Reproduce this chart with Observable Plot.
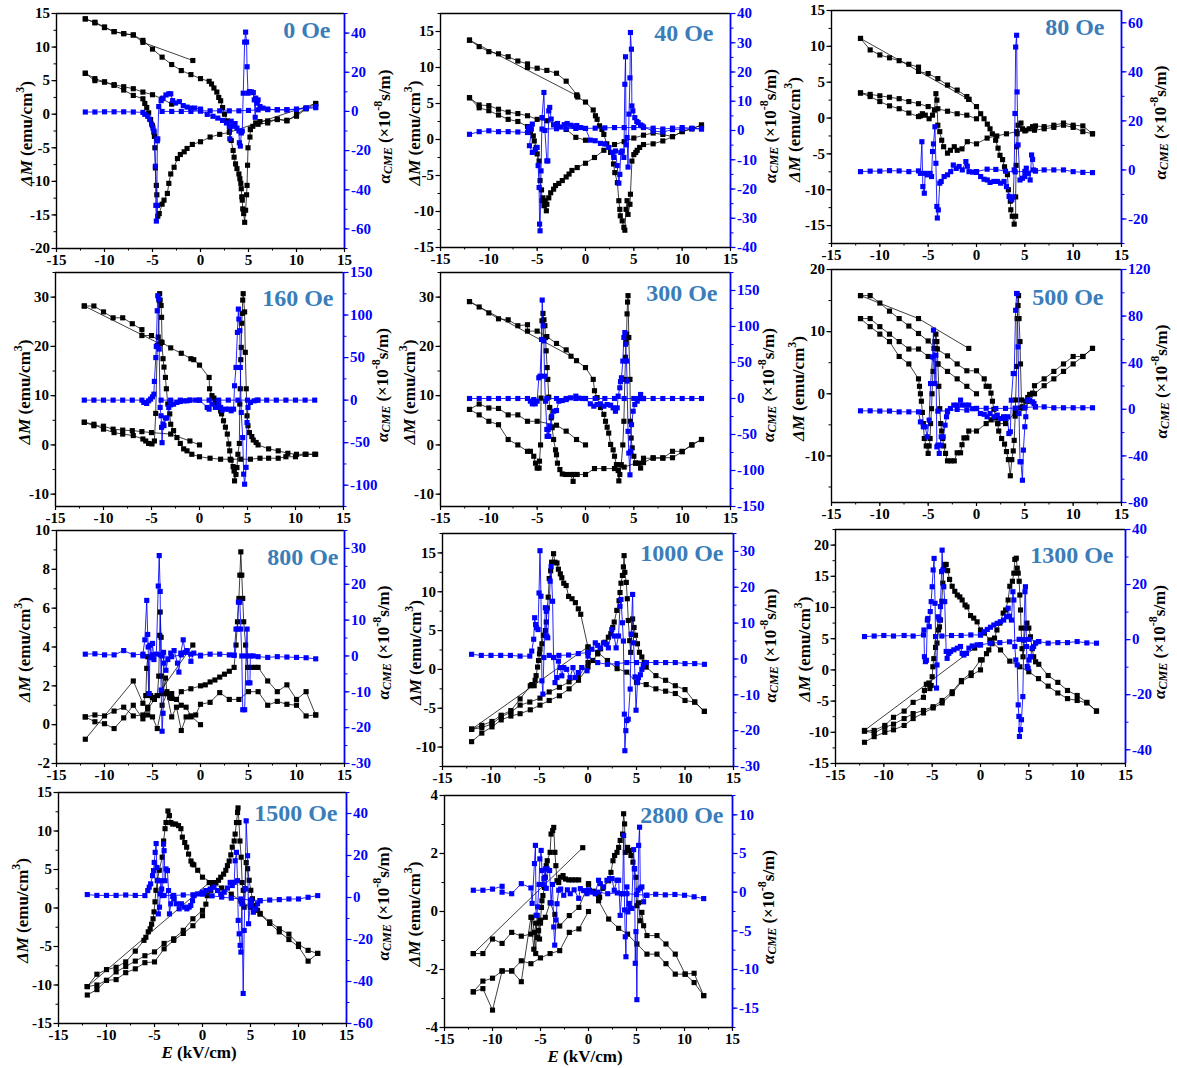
<!DOCTYPE html>
<html>
<head>
<meta charset="utf-8">
<script src="https://cdn.jsdelivr.net/npm/d3@7"></script>
<script src="https://cdn.jsdelivr.net/npm/@observablehq/plot@0.6"></script>
<style>
html,body{margin:0;padding:0;background:#fff;}
#wrap{position:relative;width:1177px;height:1068px;overflow:hidden;background:#fff;}
#wrap svg{position:absolute;}
</style>
</head>
<body>
<div id="wrap"></div>
<script>
// ---------------- DATA (E in kV/cm, ΔM in emu/cm3, α_CME in 1e-8 s/m) ----------------
// each branch is a flat list E0,v0,E1,v1,...
const fieldLabels = ["0 Oe","40 Oe","80 Oe","160 Oe","300 Oe","500 Oe","800 Oe","1000 Oe","1300 Oe","1500 Oe","2800 Oe"];

const dm_0 = [
 [-0.8,8.0, -6,10.7, -7,11.8, -8,12.0, -9,12.3, -10,12.9, -11,13.6, -12,14.2],
 [-12,14.2, -11,13.7, -10,13.0, -9,12.3, -8,12.0, -7,11.8, -6,11.0, -5,9.7, -4,8.5, -3,7.4, -2,6.5, -1,5.9, 0,5.3, 0.9,4.9, 1.15,4.5, 1.4,3.9, 1.7,3.3, 1.9,2.5, 2.1,2.0, 2.3,1.0, 2.5,0.0, 2.8,-1.0, 3.05,-2.2, 3.2,-3.9, 3.4,-5.4, 3.5,-6.4, 3.65,-7.4, 3.8,-8.1, 4.0,-8.9, 4.1,-9.6, 4.2,-10.3, 4.25,-11.1, 4.3,-12.3, 4.35,-12.8, 4.4,-14.1, 4.5,-14.8, 4.6,-16.1, 4.7,-14.3, 4.8,-12.0, 4.85,-10.6, 4.9,-7.6, 4.95,-5.0, 5.15,-3.4, 5.2,-2.3, 5.45,-1.8, 5.75,-1.3, 6.2,-1.1, 7,-1.0, 8,-0.8, 9,-0.9, 10,-0.3, 11,0.8, 12,1.6],
 [12,1.6, 3,-2.7, 2,-3.0, 1,-3.4, 0,-4.1, -0.85,-4.5, -1.4,-5.1, -1.7,-5.6, -2.1,-6.0, -2.4,-6.6, -2.75,-7.9, -3.1,-8.9, -3.3,-10.3, -3.45,-11.8, -3.8,-12.8, -4.0,-13.4, -4.3,-14.8, -4.45,-15.2, -4.5,-13.6, -4.55,-12.0, -4.6,-10.6, -4.7,-8.0, -4.75,-5.0, -4.8,-3.3, -4.85,-2.7, -5.0,-1.7, -5.2,-0.8, -5.4,0.2, -5.6,1.0, -5.8,1.6, -6,2.3, -7,2.8, -8,3.6, -9,4.3, -10,4.8, -11,5.0, -12,6.1],
 [-12,6.1, -11,5.3, -10,4.8, -9,4.4, -8,4.1, -7,3.8, -6,3.3, -5,2.9, -4,2.3, -3,1.5],
 [5.2,-2.2, 6,-1.5, 7,-1.3, 8,-0.7, 9,-1.0, 10,-0.05, 11,0.9]
];
const alpha_0 = [
 [-12,-0.3, -11,-0.3, -10,-0.2, -9,-0.2, -8,-0.2, -7,-0.3, -6,-0.5, -5.8,-1.5, -5.5,-2.5, -5.3,-4.0, -5.1,-6.5, -4.95,-8.5, -4.85,-10.0, -4.7,-28, -4.65,-48, -4.6,-56, -4.55,-48, -4.5,-15, -4.45,-14, -4.35,2.5, -4.1,5.5, -3.9,6.8, -3.6,8.4, -3.3,9.0, -3.1,9.0, -2.9,5.5, -2.6,4.3, -2.2,5.0, -1.8,3.0, -1.4,2.2, -1.0,1.7, -0.6,1.7, 0,1.2],
 [-4,0, -3,0, -2,0, -1,0, 0,0.3],
 [0,0.3, 0.7,-1.5, 1.3,-2.5, 1.8,-3.4, 2.3,-4.6, 2.7,-5.9, 3.0,-7.6, 3.05,-14, 3.2,-5, 3.4,-7.6, 3.6,-6.2, 3.8,-8.5, 4.0,-10, 4.05,-16, 4.15,-17.7, 4.25,-11, 4.35,-10, 4.45,9.3, 4.6,35.4, 4.7,40.5, 4.8,35.4, 4.85,22.8, 4.95,9.3, 5.1,10.1, 5.3,10.0, 5.5,9.6, 5.6,5.9, 5.7,-3.0, 5.75,6.8, 5.9,4.2, 6.0,5.9, 6.2,2.5, 6.5,1.7, 7,1.2, 8,0.8, 9,0.7, 10,1.0, 11,1.5, 12,1.9],
 [12,2.5, 11,1.8, 10,1.2, 9,0.9, 8,0.9, 7,0.9, 6,0.8, 5,0.5, 4,0.3, 3,0.3, 2,0.3, 1,0.3, 0,0.3]
];

const dm_40 = [
 [-12,13.8, -0.9,6.1],
 [-12,13.8, -11,12.9, -10,12.2, -9,11.9, -8,11.5, -7,10.9, -6,10.5, -6,10.0, -5,9.9, -4,9.6, -3,9.2, -2,8.1, -0.9,6.2, -0.8,5.9, 0,5.2, 0.8,4.1, 1.03,3.3, 1.2,2.8, 1.45,1.9, 1.7,1.4, 1.9,0.7, 2.2,-0.6, 2.6,-1.8, 2.9,-3.4, 3.03,-4.6, 3.3,-6.0, 3.45,-8.5, 3.55,-9.7, 3.6,-10.6, 3.8,-11.3, 3.97,-12.2, 4.07,-12.6, 4.2,-9.7, 4.3,-8.5, 4.4,-10.4, 4.6,-9.0, 4.65,-7.6, 4.8,-3.0, 5,-2.1, 5.2,-1.8, 5.35,-1.5, 5.6,-1.1, 6,-0.7, 7,-0.6, 8,-0.2, 9,0.4, 10,1.1, 11,1.5, 12,2.0],
 [12,2.0, 11,1.5, 10,1.1, 9,0.4, 8,0.7, 7,0.9, 6,0.6, 5,0.2, 4,-0.3, 3,-0.7, 1.9,-1.5, 0.93,-2.5, 0,-3.3, -0.86,-3.9, -1.4,-4.3, -1.7,-4.8, -2.0,-5.2, -2.4,-5.7, -2.76,-6.1, -3.1,-6.4, -3.3,-6.9, -3.6,-7.4, -3.8,-8.1, -4.0,-9.0, -4.05,-9.9, -4.2,-8.5, -4.3,-9.2, -4.4,-8.1, -4.5,-8.5, -4.55,-7.0, -4.7,-5.7, -4.8,-3.0, -5.0,-2.0, -5.1,-1.1, -5.3,-0.2, -5.4,0.5, -5.7,1.0, -6,1.8, -7,2.5, -8,2.8, -9,3.4, -10,4.0, -11,4.4, -12,5.8],
 [-12,5.8, -11,4.8, -10,4.7, -9,4.2, -8,3.8, -7,3.6, -6,3.3, -5,2.8, -4,2.6, -3,2.1, -2,1.4, -1,0.3, 0,-0.1]
];
const alpha_40 = [
 [-12,-1.3, -11,-0.4, -10,-0.1, -9,-0.4, -8,-0.4, -7,-0.5, -6,-0.7, -5.9,1.0, -5.75,1.2, -5.6,0.5, -5.5,2.2, -5.8,-5.2, -5.5,-7.5, -5.2,-6.5, -5.0,-5.8, -4.9,-12, -4.8,-19.5, -4.75,-32, -4.7,-34.3, -4.6,-13.8, -4.5,4.4, -4.3,13.0, -4.2,0, -4.0,-10.4, -3.9,-10.4, -3.8,6.7, -3.7,7.9, -3.55,3.9, -3.3,1.9, -2.9,2.4, -2.6,1.2, -2.2,2.0, -1.9,2.4, -1.5,1.8, -1.2,1.4, -0.9,1.7, -0.5,1.0],
 [-4.5,0.5, -3,0.6, -2,0.6, -1,0.7, 0,0.7, 1,0.8, 2,0.9, 3,1.0, 4,1.0, 5,1.0, 6,1.0, 7,0.8, 8,0.5, 9,0.8, 10,1.0, 11,0.8, 12,0.5],
 [0,0.7, 0.5,-3.3, 1.0,-3.5, 1.55,-4.4, 2.0,-4.6, 2.4,-5.8, 2.75,-7.5, 2.93,-9.2, 3.1,-7.0, 3.28,-12, 3.45,-18, 3.55,-15, 3.65,-7.5, 3.8,-7.0, 3.97,-9.2, 4.07,15.8, 4.14,25.2, 4.2,-4.9, 4.3,-2.4, 4.4,-12.5, 4.5,5.6, 4.6,18, 4.65,33.5, 4.75,27.8, 4.8,8.4, 4.9,6.7, 5.1,4.4, 5.3,3.1, 5.45,2.7, 5.7,1.9, 5.85,1.6, 6,1.2, 7,-0.2, 8,-0.5, 9,0.3, 10,0.5, 11,0.6, 12,0.6]
];

const dm_80 = [
 [-12,11.1, -0.78,2.6],
 [-12,11.1, -11,9.5, -10,8.8, -9,8.4, -8,8.0, -7,7.5, -6,7.1, -6,6.5, -5,6.2, -4,5.5, -3,4.6, -2,3.9, -1,3.0, -0.8,2.6, 0,1.6, 0.43,0.6, 0.78,-0.1, 1.12,-0.85, 1.4,-1.5, 1.64,-2.2, 1.98,-3.1, 2.23,-4.2, 2.43,-5.2, 2.7,-5.8, 2.9,-6.8, 3.2,-7.9, 3.3,-10.0, 3.5,-11.6, 3.55,-12.8, 3.7,-13.7, 3.9,-14.8, 4.05,-13.7, 4.05,-11.0, 4.1,-6.6, 4.15,-4.0, 4.2,-2.2, 4.3,-1.0, 4.6,-0.7, 4.75,-1.5, 5.1,-1.7, 5.45,-1.5, 5.8,-1.2, 6.1,-1.1, 7,-1.2, 8,-1.0, 9,-0.7, 10,-1.0, 11,-1.1, 12,-2.2],
 [12,-2.2, 11,-1.9, 10,-1.3, 9,-1.0, 8,-1.3, 7,-1.5, 6,-1.7, 5,-1.8, 4.15,-1.9, 3.1,-2.2, 2.1,-2.5, 1.1,-2.8, 0,-3.6, -0.95,-3.3, -1.5,-4.3, -2,-4.5, -2.3,-4.0, -2.7,-4.5, -3,-4.9, -3.4,-4.0, -3.6,-3.1, -3.8,-1.9, -4.0,-1.0, -4.1,2.5, -4.2,3.4, -4.35,1.1, -4.55,0.4, -4.9,-0.1, -5.3,0.4, -5.6,0.6, -5.8,0.3, -6,0.2, -7,0.7, -8,1.3, -9,1.7, -10,2.3, -11,3.0, -12,3.5],
 [-12,3.5, -11,3.3, -10,3.1, -9,2.9, -8,2.7, -7,2.3, -6,2.0, -5,1.6, -4,1.3, -3,0.95, -2,0.6, -1,0.4, 0,-0.1]
];
const alpha_80 = [
 [-12,-0.7, -11,-0.5, -10,-0.5, -9,-0.3, -8,-0.4, -7,-0.7, -6,-0.4, -5.8,-1.4, -5.65,11.5, -5.55,-6.8, -5.4,-9.5, -5.3,-1.4, -5.1,-2.0, -4.8,-1.4, -4.65,-2.7, -4.55,7.5, -4.45,10.6, -4.3,17.6, -4.2,2.7, -4.1,-14.9, -4.05,-19.6, -3.95,-16.3, -3.8,-5.4, -3.65,-4.7, -3.35,-2.7, -3.0,-2.0, -2.67,-0.7, -2.4,2.0, -2.1,0.6, -1.8,1.4, -1.47,0, -1.1,3.4, -0.95,1.5, -0.78,-0.7, -0.4,-0.9, 0,-1.0],
 [12,-1.1, 11,-1.0, 10,-0.7, 9,0, 8,0, 7,0, 6.1,-0.4, 5,-0.6, 4,-0.8, 3,-0.5, 2,0.2, 1.1,0.3, 0,-0.7],
 [0,-0.7, 0.43,-2.7, 0.78,-3.8, 1.12,-4.1, 1.4,-5.1, 1.8,-4.7, 2.16,-4.7, 2.5,-5.4, 2.85,-4.7, 3.1,-6.8, 3.37,-10.8, 3.55,-11.5, 3.65,-12.2, 3.8,-11.0, 3.9,0, 3.98,23, 4.05,50.1, 4.15,54.9, 4.2,31.8, 4.3,10.2, 4.5,-4.1, 4.75,-3.4, 5.0,-2.7, 5.15,0.7, 5.35,-1.4, 5.55,-4.1, 5.7,6.1, 5.8,4.3, 5.9,0, 6.1,-0.4]
];

const dm_160 = [
 [-12,28.2, -4.1,20.5],
 [-12,28.2, -11,28.2, -10,27.0, -9,25.8, -8,25.8, -7,24.6, -6,23.4, -6,22.2, -5,22.2, -4,20.9, -3,19.7, -1.9,18.6, -0.9,17.5, -0.6,17.3, 0,16.2, 1,13.7, 1.05,11.4, 1.3,10.0, 1.5,9.5, 1.65,9.0, 1.8,8.4, 2,7.6, 2.2,6.9, 2.3,6.3, 2.5,4.9, 2.7,3.6, 2.9,2.2, 3.05,0.2, 3.15,-1.2, 3.3,-3.1, 3.5,-4.4, 3.6,-5.3, 3.65,-7.3, 3.8,-6.0, 3.9,-4.6, 4,-1.9, 4.15,0.3, 4.2,8.3, 4.25,11.4, 4.3,17.3, 4.35,19.8, 4.4,24.7, 4.45,26.7, 4.5,29.4, 4.55,30.7, 4.7,27.0, 4.77,18.8, 4.87,11.4, 4.95,5.9, 5.05,3.9, 5.2,2.5, 5.45,1.7, 5.6,1.0, 5.9,0.5, 6.1,0.0, 7.2,-0.8, 8.2,-1.2, 9.2,-1.7, 10.1,-1.9, 11.1,-1.9, 12.1,-1.9],
 [12,-1.9, 11,-1.9, 10,-2.4, 9,-2.4, 8.2,-2.7, 7.2,-2.7, 6.3,-2.7, 5.3,-2.9, 4.3,-2.9, 3.2,-2.9, 2.2,-2.9, 1.1,-2.7, 0,-2.4, -0.8,-1.9, -1.3,-1.2, -1.65,-0.8, -2,0.3, -2.35,1.5, -2.7,2.9, -3,4.2, -3.1,6.3, -3.3,8.3, -3.45,11.4, -3.55,13.7, -3.7,15.8, -3.8,17.5, -3.9,20.8, -3.95,25.9, -4,28.3, -4.1,29.4, -4.15,30.7, -4.2,29.3, -4.3,21.9, -4.4,20.2, -4.56,6.4, -4.7,0.8, -4.95,0.2, -5.3,0.3, -5.6,0.8, -5.9,1.2, -6.9,1.9, -8,2.2, -8.9,2.5, -10,3.2, -11,4.2, -12,4.6],
 [-12,4.6, -11,3.9, -10,3.8, -9,3.2, -8,3.0, -7,2.9, -6,2.7, -5,2.5, -3,2.2, -1,0.8, 0,0]
];
const alpha_160 = [
 [-12,0, -11,0, -10,0, -9,0, -8,0, -7,0, -6,0, -5.8,-2.7, -5.5,-3.9, -5.3,-0.8, -5.1,1.2, -4.9,3.9, -4.75,7.0, -4.7,22, -4.55,50, -4.5,63, -4.4,105, -4.35,122.7, -4.25,118.8, -4.2,60, -4.1,-8.6, -4.0,-18.4, -3.95,-32, -3.9,-50, -3.8,-28, -3.7,-30, -3.55,-21, -3.4,-21, -3.2,-8.6, -3.0,-5.5, -2.7,-4.7, -2.35,-2.7, -2.0,-1.6, -1.65,-0.8, -1.3,-0.8, -1.0,0, -0.4,0],
 [12,0, 11,0, 10,0, 9,0, 8,0, 7,0, 6,0, 5,0, 4,0, 3,0, 2,0, 1,0, 0,0, -1,0, -2,0, -3,0, -4,0],
 [0,0, 0.8,-8.6, 1.0,-10.6, 1.3,-4.7, 1.65,-8.6, 2,-5.5, 2.2,-8.6, 2.35,-11.8, 2.7,-10.6, 3.05,-10.6, 3.3,-12.5, 3.55,-10.6, 3.65,16.9, 3.8,38.4, 3.95,79.6, 4.05,107, 4.1,95.3, 4.2,81.6, 4.25,38.4, 4.35,-14.5, 4.5,-44, 4.6,-87, 4.7,-98.8, 4.85,-79, 4.95,-26.3, 5.05,-8.6, 5.3,-2.7, 5.7,-0.8, 6.1,0]
];

const dm_300 = [
 [-12,29.1, -1.5,18.0],
 [-12,29.1, -11,28.0, -10,26.8, -9,25.6, -8,25.4, -7,24.2, -6,24.4, -6,23.1, -5,23.1, -4,22.0, -3,20.6, -2,19.3, -0.93,17.1, 0,15.7, 0.8,13.3, 0.93,11.0, 1.2,9.6, 1.55,7.6, 1.9,6.2, 2.07,4.8, 2.24,3.6, 2.4,2.4, 2.6,0.1, 2.86,-1.0, 3.0,-2.3, 3.2,-4.0, 3.38,-5.2, 3.45,-7.3, 3.55,-6.0, 3.7,-4.0, 3.86,0.0, 3.97,4.8, 4.07,13.3, 4.14,17.8, 4.2,20.8, 4.25,22.5, 4.3,26.6, 4.35,29.0, 4.4,30.3, 4.48,21.8, 4.6,13.3, 4.65,4.8, 4.72,1.4, 4.83,-0.6, 5.0,-2.3, 5.17,-3.7, 5.5,-3.7, 5.7,-4.7, 6,-2.7, 7,-2.7, 8,-2.7, 9,-1.3, 10,-1.3, 11,0.0, 12,1.1],
 [12,1.1, 11,0, 10,-1.4, 9,-2.6, 8,-2.6, 7,-2.6, 6,-3.6, 5.2,-3.7, 4,-4.5, 3,-4.8, 1.9,-4.8, 0.93,-4.8, 0,-6.0, -0.86,-6.0, -1.2,-6.0, -1.28,-7.4, -1.55,-6.0, -2.07,-6.0, -2.4,-5.9, -2.65,-5.0, -2.9,-3.7, -3.0,-2.0, -3.1,-1.0, -3.3,1.1, -3.45,3.5, -3.55,5.5, -3.7,7.6, -3.8,9.7, -3.9,13.3, -3.97,15.7, -4.07,19.1, -4.14,21.8, -4.2,24.2, -4.3,25.4, -4.4,26.7, -4.5,25.2, -4.6,9.5, -4.65,0.0, -4.76,-3.3, -4.8,-4.7, -5.0,-4.7, -5.17,-3.7, -5.35,-2.3, -5.7,-1.3, -6,-1.3, -7,0.0, -8,1.1, -9,4.1, -10,4.8, -11,6.1, -12,7.2],
 [-12,7.2, -11,8.3, -10,7.5, -9,7.4, -8,6.1, -7,6.1, -6,4.8, -5,4.8, -3,4.0, -2,2.8, -0.93,1.1, 0,0]
];
const alpha_300 = [
 [-12,0, -11,0, -10,0, -9,0, -8,0, -7,0, -6,0, -5.7,-3.7, -5.5,-7.4, -5.35,-1.5, -5.2,-7.4, -5,-3.7, -4.83,28.8, -4.7,31, -4.55,82, -4.48,136.7, -4.38,101, -4.3,80, -4.24,31, -4.14,-3.7, -4.0,-43, -3.97,-52.6, -3.86,-43, -3.8,-52.6, -3.7,-38.6, -3.5,-24.7, -3.3,-17.7, -3.0,-16.7, -2.76,-3.7, -2.4,-2.8, -2.0,-1.5, -1.55,0.9, -1.0,3.3, -0.7,0.5, -0.3,0],
 [12,0, 11,0, 10,0, 9,0, 8,0, 7,0, 6,0, 5,0, 4,0, 3,0, 2,0, 1,0, 0,0, -1,0, -2,0, -3,0, -4,0],
 [0,0, 0.5,-7.4, 0.86,-10.7, 1.2,-8.4, 1.55,-7.4, 1.9,-10.7, 2.24,-8.4, 2.6,-9.3, 2.86,-13, 3.1,-17.7, 3.28,-13, 3.38,3.3, 3.55,14.9, 3.62,23.3, 3.72,28.8, 3.86,52, 3.97,84.7, 4.07,91.6, 4.14,75.3, 4.24,52, 4.3,24.2, 4.4,-45.6, 4.48,-75.8, 4.6,-106, 4.66,-73.5, 4.76,-36.3, 4.93,-17.7, 5.1,-8.4, 5.35,-3.7, 5.5,0, 5.7,5.6, 5.85,0, 6,0]
];

const dm_500 = [
 [-12,15.8, -6,12.1, -0.8,7.3],
 [-12,15.8, -11,15.8, -10,14.6, -9,13.3, -8,12.1, -7,10.9, -6,9.7, -5,8.5, -4.2,7.3, -3,6.1, -2,4.8, -1,3.7, 0,3.7, 0.8,2.4, 1.0,1.2, 1.3,1.2, 1.5,0.1, 1.65,-1.2, 1.8,-2.5, 2,-3.9, 2.2,-4.8, 2.3,-6.0, 2.6,-7.2, 2.9,-8.1, 3.1,-9.3, 3.3,-10.6, 3.5,-13.2, 3.65,-10.6, 3.8,-9.2, 3.9,-7.5, 4.0,-3.6, 4.05,-1.0, 4.15,4.4, 4.2,12.1, 4.3,14.2, 4.35,15.8, 4.4,12.1, 4.5,8.4, 4.55,4.8, 4.65,-1.0, 4.75,-2.1, 4.9,-2.3, 5.1,-1.2, 5.3,-0.6, 5.5,-0.1, 5.8,0.1, 6,1.3, 7,2.4, 8,3.6, 9,4.8, 10,6.0, 11,6.0, 12,7.3],
 [12,7.3, 11,6.0, 10,4.8, 9,3.6, 8,2.4, 7,1.3, 6,0.0, 5.5,-1.2, 5,-2.2, 4.5,-2.3, 4,-3.0, 3,-4.8, 2.2,-4.8, 1.5,-4.2, 1,-4.8, 0,-6.0, -0.8,-6.0, -1.0,-7.1, -1.3,-7.1, -1.5,-8.2, -1.65,-9.5, -2.0,-9.5, -2.3,-10.8, -2.65,-10.8, -3.0,-10.8, -3.2,-9.6, -3.4,-8.4, -3.5,-7.2, -3.6,-6.0, -3.7,-4.8, -3.8,-2.4, -3.9,1.2, -4.0,4.8, -4.05,7.2, -4.1,8.4, -4.2,9.6, -4.3,8.4, -4.4,7.3, -4.5,3.6, -4.6,0, -4.65,-2.4, -4.75,-4.8, -4.8,-7.2, -4.9,-8.4, -5.0,-9.6, -5.2,-8.4, -5.4,-7.2, -5.5,-4.8, -5.6,-3.0, -5.7,-1.2, -5.8,0.0, -5.9,1.2, -6,2.4, -7,4.8, -8,6.0, -9,8.4, -10,9.6, -11,10.8, -12,12.1],
 [-12,12.1, -11,12.1, -10,10.8, -9,9.6, -8,8.4, -7,7.2, -6,7.2, -5,6.0, -4,4.8, -3,3.6, -2,2.4, -1,1.2, 0,0]
];
const alpha_500 = [
 [-12,-1.3, -11,-1.3, -10,-1.5, -9,-1.5, -8,-2.2, -7,-2.2, -6,-2.2, -5.8,-10.8, -5.5,-15, -5.3,-15, -5.1,-23.6, -4.9,-9.3, -4.75,22.1, -4.55,45, -4.45,68, -4.3,22.1, -4.2,46.5, -4.1,-32.2, -4.0,-30.8, -3.85,-37.9, -3.75,-30.8, -3.65,-23.6, -3.45,-23.6, -3.25,-13.6, -3.1,-6.4, -3.0,-2.2, -2.7,0.7, -2.35,3.6, -2.0,3.6, -1.65,7.9, -1.5,3.6, -1.1,3.6, -0.8,3.6, -0.4,0.5, 0,0.7],
 [12,1.3, 11,1.3, 10,1.3, 9,1.3, 8,1.3, 7,2.1, 6.1,2.1, 5,1.5, 4,1.0, 3,0.8, 2,0.7, 1,0.9, 0,0.7, -1,-0.7, -2,-0.1, -3,-1.3, -4,-1.6],
 [0,0.7, 0.4,-3.6, 0.8,-4.3, 1.1,-6.4, 1.4,-3.6, 1.8,-6.4, 2.15,-5.0, 2.5,-7.9, 2.8,-6.4, 3.0,-7.9, 3.2,-6.4, 3.35,-20.8, 3.5,-19.3, 3.6,7.8, 3.8,30.7, 3.9,30.7, 4.05,85, 4.15,99.4, 4.2,99.4, 4.3,53.6, 4.4,-3.6, 4.5,-45, 4.6,-45, 4.75,-60.9, 4.85,-35, 5.0,-15, 5.1,-6.4, 5.25,7.9, 5.5,7.9, 5.8,6.4, 5.95,5.0, 6.1,2.1]
];

const dm_800 = [
 [-0.8,4.1, -5.5,0.8],
 [-12,-0.75, -7,2.25, -6,1.1, -5.7,1.5, -5.6,2.9, -5.5,3.5, -5.4,1.6, -5.2,1.5, -5,1.4, -4.8,1.3, -4.5,1.5, -4.35,2.5, -4.25,4.6, -4.2,5.8, -4.1,4.5, -4.05,2.5, -3.9,1.6, -3.65,2.4, -3.5,1.7, -3.2,1.4, -3,1.35, -2.5,1.3, -2,1.7, -1,1.85, 0,2.0, 0.5,2.05, 1,2.2, 1.5,2.3, 2,2.45, 2.5,2.6, 3,2.75, 3.5,2.95, 3.7,4.1, 3.85,5.3, 4.0,6.5, 4.1,7.7, 4.2,8.9, 4.3,7.7, 4.4,6.5, 4.5,5.3, 4.7,4.1, 4.9,2.95, 5.3,2.95, 5.7,2.95, 6,2.95, 7,2.25, 8,1.7, 9,2.05, 10,1.3, 11,1.7, 12,0.5],
 [12,0.5, 11,0.45, 10,1.0, 9,1.05, 8,1.2, 7,1.0, 6,1.7, 5,1.7, 4,1.3, 3,1.3, 2,1.65, 1,1.15, 0,1.05, -0.5,0.5, -1,0.4, -1.5,0.4, -2,-0.3, -2.5,0.9, -3,0.4, -3.5,1.6, -4,1.0, -4.5,-0.2, -5,0.4, -5.5,0.5, -6,0.3, -7,1.0, -8,0.35, -9,-0.2, -10,0.05, -11,0.15, -12,0.4],
 [-12,0.4, -11,0.5, -10,0.45, -9,0.7, -8,0.9, -7,0.45, -6,0.5, -5.5,0.9, -5,1.4, -4.5,1.5, -4,1.6, -3,1.6, -2,1.0, -1.5,0.9, -1,0.45, 0,0]
];
const alpha_800 = [
 [-12,0.5, -11,0.6, -10,0.3, -9,0.3, -8,1.5, -7,0.3, -6,0.5, -5.8,4.5, -5.6,15.5, -5.5,6, -5.45,2.5, -5.35,-10.5, -5.25,3, -5.1,-0.5, -5.0,3.5, -4.85,-1, -4.6,0.5, -4.4,19.5, -4.3,28, -4.2,18, -4.15,0.3, -4.1,-9.5, -4.0,-21, -3.9,-16, -3.85,1, -3.8,-2, -3.6,-4, -3.4,-1, -3.1,0.8, -2.75,1.5, -2.4,-2, -2.25,-4.5, -2.05,0.8, -1.8,4.5, -1.6,1, -1.4,1.5, -1.0,-1.5, -0.7,0.8, 0,0],
 [-6,0, -5,0.3, -4,0, -3,-0.2, -2,0.3, -1,0.5, 0,0.2, 1,0.5, 2,0.5, 3,0.3, 3.5,0.2],
 [3.5,0.2, 3.7,7.5, 3.85,7.5, 3.95,15, 4.1,15, 4.2,7.5, 4.3,0, 4.4,-15, 4.6,-15, 4.75,0, 4.85,7.5, 4.95,-7.5, 5.15,-7.5, 5.2,0, 5.5,0, 6,-0.2, 7,-0.4, 8,-0.2, 9,-0.3, 10,-0.4, 11,-0.5, 12,-0.8]
];

const dm_1000 = [
 [-12,-7.7, 0,2.9],
 [-12,-9.3, -10.95,-8.2, -9.9,-7.4, -8.95,-6.5, -7.95,-6.0, -7,-5.7, -5.95,-5.2, -4.95,-4.6, -4,-4.0, -2.95,-3.4, -1.95,-2.5, -0.98,-1.4, 0,0.3, 0.5,1.15, 1,2.0, 1.3,2.65, 1.75,3.5, 2.1,4.15, 2.35,4.6, 2.55,5.4, 2.7,6.1, 2.97,7.6, 3.2,8.85, 3.3,9.9, 3.4,11.1, 3.55,12.1, 3.65,13.2, 3.72,14.65, 3.8,12.5, 3.95,11.2, 4.05,9.1, 4.15,6.3, 4.3,3.7, 4.4,2.2, 4.5,4.5, 4.6,6.5, 4.75,5.4, 4.9,4.4, 5.1,3.3, 5.3,2.2, 5.55,1.6, 5.8,0.9, 6,0.3, 7,-0.8, 8,-1.4, 9,-2.1, 10,-2.6, 11,-4.2, 12,-5.4],
 [12,-5.4, 11,-4.2, 10,-4.0, 9,-3.1, 8,-2.8, 7,-2.5, 6,-1.95, 5,-1.65, 4,-0.35, 3,0.1, 2,1.15, 1,2.2, 0,2.86, -0.75,7.1, -1,7.8, -1.3,8.6, -1.65,9.1, -2,9.4, -2.25,10.8, -2.5,11.1, -2.7,11.8, -2.85,12.3, -3.05,12.9, -3.2,13.7, -3.4,13.8, -3.55,14.9, -3.75,13.8, -3.85,12.7, -4,11.7, -4.1,9.3, -4.2,7.9, -4.3,6.1, -4.4,5.0, -4.6,4.4, -4.75,3.3, -4.95,2.6, -5,2.0, -5.1,1.15, -5.2,0.3, -5.35,-0.8, -5.45,-1.4, -5.55,-2.1, -5.8,-1.95, -5.95,-2.1, -7,-3.8, -7.95,-5.3, -8.95,-5.9, -9.9,-6.7, -10.95,-7.2, -12,-7.7],
 [-12,-7.7, -10.95,-7.5, -9.9,-7.0, -8.95,-6.1, -7.95,-5.5, -7,-4.6, -6,-4.2, -4.95,-3.7, -4,-2.9, -2.95,-2.3, -1.95,-1.6, -1,-1.0, 0,0.9]
];
const alpha_1000 = [
 [-12,1.3, -11,1.0, -10,1.0, -9,1.0, -8,1.0, -7,0.8, -6,0.8, -5.8,2.2, -5.6,5.5, -5.5,11.5, -5.4,9.6, -5.3,8.7, -5.15,8.2, -5.05,18.4, -4.95,30.2, -4.85,17.5, -4.75,-6.1, -4.65,-9.8, -4.55,0.4, -4.4,14.3, -4.3,13.3, -4.25,6.4, -4.15,5.9, -3.9,21.7, -3.8,25.8, -3.65,16.1, -3.55,0.4, -3.4,-6.6, -3.2,-5.2, -3.05,-0.6, -2.85,-2.4, -2.7,-4.7, -2.5,-2.4, -2.2,-2.9, -1.85,-5.2, -1.55,-2.4, -1.3,-5.2, -1,-3.8, -0.65,-2.4, -0.1,-3.3, 0,1.8],
 [-4,1.0, -3,1.0, -2,1.1, -1,1.5, 0,1.8],
 [0,1.8, 0.4,2.7, 0.75,4.5, 1,3.8, 1.25,3.1, 1.6,4.5, 1.9,4.1, 2.1,3.1, 2.45,8.2, 2.7,6.4, 2.9,3.1, 3.15,6.4, 3.3,14.7, 3.4,16.6, 3.55,10.1, 3.65,5, 3.75,-15.4, 3.8,-25.6, 3.9,-20, 4.0,-17.2, 4.15,-16.8, 4.35,-8.4, 4.45,6.9, 4.6,18, 4.7,4.5, 4.85,-5, 4.95,-14.3, 5.1,-6.6, 5.2,-5.2, 5.4,-4.4, 5.55,-2.9, 5.7,-1.9, 6,-1.0],
 [12,-1.5, 11,-1.3, 10,-1.3, 9,-1.0, 8,-1.0, 7,-1.0, 6,-1.0, 5,-1.0, 4,-1.0, 3,-1.3, 2,-1.5, 1,-1.0, 0,0.8]
];

const dm_1300 = [
 [-12,-9.7, -0.6,3.5],
 [-12,-11.6, -11,-10.7, -9.9,-10.0, -9,-9.6, -7.9,-8.9, -6.97,-7.8, -5.9,-6.9, -4.9,-6.1, -3.97,-5.3, -2.93,-3.8, -1.97,-1.9, -0.97,-0.9, 0,0, 0.17,1.6, 0.62,2.6, 0.86,3.2, 1.2,4.2, 1.45,5.1, 1.7,6.4, 2,7.5, 2.35,9.1, 2.6,9.6, 2.86,11.2, 3.03,13.4, 3.3,14.2, 3.45,15.5, 3.55,17.7, 3.7,17.9, 3.8,16.3, 3.9,15.5, 4,14.2, 4.07,12.0, 4.14,9.6, 4.2,6.7, 4.3,3.4, 4.4,2.1, 4.5,4.8, 4.65,6.7, 4.8,7.5, 5,6.7, 5.17,5.3, 5.35,3.4, 5.5,2.1, 5.7,1.3, 6.03,0.9, 7,-0.9, 8,-2.0, 9,-3.3, 10,-4.1, 11,-5.2, 12,-6.6],
 [12,-6.6, 11,-5.3, 10,-4.9, 9,-4.6, 8,-3.7, 7,-2.6, 6,-1.4, 5,-0.3, 4.07,0.5, 3.03,1.4, 2.07,3.2, 0.97,4.8, 0.4,5.9, 0,6.4, -0.35,7.7, -0.7,8.3, -1.03,8.7, -1.4,10.1, -1.6,10.4, -1.9,11.2, -2.14,11.7, -2.4,12.0, -2.66,12.6, -2.93,13.4, -3.2,14.5, -3.4,15.9, -3.55,16.9, -3.7,16.9, -3.8,16.1, -3.9,13.9, -4,11.0, -4.14,8.0, -4.24,6.9, -4.34,6.4, -4.5,4.3, -4.65,3.6, -4.83,1.8, -4.93,0.5, -5,-1.1, -5.1,-2.5, -5.24,-3.0, -5.34,-2.1, -5.6,-2.3, -5.8,-3.3, -5.9,-4.4, -6.97,-5.2, -7.9,-6.6, -9,-7.6, -9.9,-8.9, -11,-9.7, -12,-9.8],
 [-12,-9.8, -11,-10.1, -9.9,-9.2, -9,-8.7, -7.9,-7.8, -6.97,-7.0, -5.9,-6.5, -4.9,-5.9, -3.97,-4.9, -2.93,-3.5, -1.97,-1.7, -0.97,-0.5, 0,1.6]
];
const alpha_1300 = [
 [-12,1.1, -11,1.3, -10,1.5, -9,1.3, -7.9,1.5, -6.97,1.3, -5.9,1.7, -5.85,3.5, -5.8,-6.2, -5.7,-8.0, -5.6,-7.5, -5.5,7.1, -5.45,7.7, -5.3,4.7, -5.2,10.2, -5.1,13.8, -5.0,19.2, -4.9,25.3, -4.8,29.5, -4.7,13.2, -4.65,1.1, -4.55,-17.6, -4.5,-9.2, -4.4,8.3, -4.3,7.5, -4.2,7.1, -4.14,12.0, -4.03,24.7, -3.97,32.5, -3.9,25.3, -3.8,19.2, -3.7,13.8, -3.55,-4.3, -3.45,-6.8, -3.28,-5.0, -3.1,-4.3, -2.76,-3.7, -2.4,-3.1, -2.07,-2.5, -1.9,-5.0, -1.72,-5.6, -1.45,-5.0, -1.2,-3.1, -0.86,-2.3, -0.35,-1.9, 0,-1.9],
 [-4,1.3, -3,1.5, -2,1.5, -1,1.7, 0,1.7],
 [0,1.7, 0.35,2.9, 0.7,3.7, 1.03,4.5, 1.38,5.3, 1.72,5.9, 2.07,6.5, 2.4,7.1, 2.7,8.3, 2.86,11.4, 3.0,8.5, 3.2,7.1, 3.35,17.4, 3.45,14.4, 3.55,-2.5, 3.65,-7.4, 3.8,-9.2, 3.9,-23.7, 3.97,-27.9, 4.03,-35.2, 4.14,-32.7, 4.24,-29.1, 4.38,-20.7, 4.48,-0.1, 4.6,17.4, 4.65,19.2, 4.76,-2.5, 4.83,-9.8, 4.93,-10.4, 5.03,-7.4, 5.17,-6.2, 5.35,-3.1, 5.5,-2.5, 5.7,-1.3, 6.03,-0.7],
 [12,-1.3, 11,-1.2, 10,-0.7, 9,-1.1, 8,-1.1, 7,-1.3, 6,-0.7, 5,0.1, 4,0.1, 3,-0.8, 2,-1.1, 1,-1.3, 0,-1.9]
];

const dm_1500 = [
 [-12,-10.2, 0.7,3.3],
 [-12,-11.3, -11,-10.6, -10,-9.4, -9,-9.3, -8,-8.4, -7,-7.9, -6,-7.1, -5,-7.0, -4,-5.3, -3,-4.2, -2,-3.3, -1,-2.3, 0,-1.0, 0.35,0.5, 0.5,1.6, 0.87,2.3, 1.04,2.9, 1.4,3.3, 1.67,3.6, 1.9,4.0, 2.2,4.4, 2.43,4.9, 2.6,5.5, 2.78,6.1, 2.95,6.9, 3.1,7.9, 3.3,8.7, 3.4,9.6, 3.54,11.1, 3.65,12.4, 3.7,13.0, 3.8,11.1, 3.9,8.7, 4.03,6.6, 4.13,3.3, 4.24,2.3, 4.34,0.1, 4.44,2.5, 4.55,5.9, 4.7,5.1, 4.86,3.6, 5.03,2.3, 5.2,1.2, 5.45,0.3, 5.73,-0.3, 6,-0.8, 7,-2.0, 8,-3.1, 9,-4.1, 10,-5.0, 11,-6.9, 12,-5.9],
 [12,-5.9, 11,-5.5, 10,-4.7, 9,-3.4, 8,-2.7, 7,-1.8, 6,-0.7, 5,0.1, 4,0.9, 3,1.8, 2,2.6, 1,3.3, 0,4.0, -0.5,4.9, -0.9,5.6, -1.05,5.7, -1.2,6.1, -1.45,7.0, -1.65,7.9, -1.85,8.5, -2.1,9.2, -2.25,10.3, -2.5,10.7, -2.8,10.9, -3.1,10.9, -3.3,11.1, -3.45,12.0, -3.6,12.6, -3.8,11.1, -3.9,10.3, -4.05,8.7, -4.2,6.6, -4.5,4.9, -4.7,3.6, -4.85,2.3, -4.95,0.8, -5.05,-0.5, -5.15,-1.4, -5.3,-2.1, -5.45,-2.7, -5.65,-3.1, -5.9,-3.8, -6.1,-4.2, -7,-5.6, -8,-7.0, -9,-7.7, -10,-8.0, -11,-8.6, -12,-10.2],
 [-12,-10.2, -11,-10.0, -10,-9.4, -9,-8.3, -8,-7.6, -7,-6.9, -6,-6.2, -5,-5.7, -4,-4.6, -3,-4.0, -2,-2.9, -1,-1.4, 0,-0.3]
];
const alpha_1500 = [
 [-12,1.4, -11,1.0, -10,1.0, -9,1.0, -8,1.2, -7,1.0, -6,0.9, -5.7,3.3, -5.55,4.9, -5.4,6.5, -5.2,10.4, -5.1,12.8, -5.03,16.7, -4.93,21.5, -4.83,25.7, -4.75,14.3, -4.7,8.0, -4.6,-7.8, -4.48,-4.6, -4.4,1.7, -4.34,8.0, -4.25,4.0, -4.17,0.9, -4.06,25.4, -4.0,22.3, -3.9,8.0, -3.8,13.6, -3.65,12.8, -3.54,3.3, -3.44,-7.8, -3.3,-3.0, -3.1,0.5, -2.95,-0.7, -2.7,-3.0, -2.43,-5.4, -2.2,-3.0, -1.9,-4.6, -1.63,-5.4, -1.39,-4.6, -1.22,-3.8, -1.04,-1.5, -0.87,0.9, -0.52,1.7, 0,2.5],
 [-4,1.0, -3,1.0, -2,1.2, -1,1.3, 0,1.7],
 [0,2.5, 0.35,3.3, 0.8,4.0, 1.2,4.9, 1.56,3.3, 1.9,1.7, 2.26,2.5, 2.6,4.5, 2.88,7.2, 3.1,5.7, 3.3,7.2, 3.4,17.5, 3.54,21.5, 3.65,8.0, 3.72,-10.9, 3.82,-17.3, 3.92,-22.8, 4.0,-26, 4.1,-3.0, 4.24,-45.7, 4.34,-15.7, 4.44,4.1, 4.55,36.5, 4.7,19.9, 4.8,-12.5, 4.97,-3.8, 5.1,-3.0, 5.3,-7.0, 5.55,-5.4, 5.73,-3.0, 6,-1.5],
 [12,0.9, 11,0.1, 10,-0.7, 9,-0.7, 8,-1.0, 7,-1.2, 6,-1.5, 5,-1.2, 4,-0.7, 3,-0.3, 2,0.2, 1,0.8, 0,1.7]
];

const dm_2800 = [
 [-0.6,2.2, -12,-1.45],
 [-12,-1.45, -11,-1.45, -10,-0.95, -9,-1.1, -8,-0.72, -7,-0.85, -6,-0.78, -5.9,-0.2, -5.63,-0.72, -5.5,-1.45, -5.36,-0.14, -5.2,-0.66, -5.1,-0.95, -5,-0.3, -4.9,0.14, -4.85,0.37, -4.75,0.55, -4.6,0.83, -4.5,1.18, -4.4,1.58, -4.3,1.75, -4.0,2.04, -3.9,2.67, -3.73,2.79, -3.62,2.9, -3.5,2.04, -3.4,1.58, -3.28,1.06, -3.1,1.0, -2.93,1.18, -2.65,1.24, -2.4,1.12, -2.06,1.09, -1.72,1.09, -1.37,1.09, -1.02,1.09],
 [-12,-2.77, -11,-2.4, -10,-2.3, -9,-2.05, -8,-2.05, -7,-1.7, -6,-1.8, -5,-1.6, -4,-1.45, -3,-1.35, -2,-0.72, -1,-0.6, 0,0],
 [-12,-2.77, -11,-2.66, -10,-3.4, -9,-2.05, -8,-2.05, -7,-2.42, -6,-0.2, -5.7,-1.3, -5.5,-0.4, -5.3,-0.9, -5,-0.4, -4.5,-0.2, -4,0.3, -3.5,-0.1, -3,-0.5, -2,-0.14, -1,0.14, 0,0.95],
 [0,0.95, 0.5,0.7, 1.05,0.55, 1.16,0.49, 1.5,0.8, 2.1,1.06, 2.34,1.35, 2.55,1.75, 2.72,1.93, 2.97,2.04, 3.14,2.21, 3.3,2.45, 3.55,2.67, 3.66,3.37, 3.76,3.02, 3.83,2.04, 4.07,2.21, 4.28,2.1, 4.42,1.93, 4.63,1.7, 4.77,1.47, 4.94,1.18, 5.04,0.2, 5.2,0.3, 5.39,-0.32, 5.56,-0.03, 5.74,-0.49, 6.09,-0.83, 7.13,-0.83, 8.07,-1.12, 9.04,-1.47, 10.07,-2.16, 11,-2.13, 12,-2.9],
 [12,-2.9, 11,-2.45, 10.07,-2.16, 9.04,-2.16, 8.07,-1.8, 7.13,-1.47, 6.09,-1.47, 5.04,-1.12, 4.07,-0.78, 3.14,-0.58, 2.1,-0.26, 1.05,0.37, 0,0.95]
];
const alpha_2800 = [
 [-12,0.25, -11,0.25, -10,0.4, -9,0.76, -9,0, -8,-0.2, -7,1.1, -6,0.55, -5.87,-1.45, -5.63,3.7, -5.53,6.05, -5.46,-3.0, -5.38,-3.0, -5.3,-1.9, -5.15,1.0, -5.07,4.3, -4.93,5.4, -4.85,2.8, -4.75,1.0, -4.65,1.75, -4.5,3.0, -4.4,0.5, -4.3,3.0, -4.05,2.8, -3.9,-1.4, -3.75,1.0, -3.62,-4.5, -3.52,-6.85, -3.38,-3.6, -3.28,-1.5, -3.1,0.25, -2.9,0.4, -2.58,-0.4, -2.2,0.3, -1.9,-0.2, -1.5,0.3, -1.02,-0.8, -0.85,0.46, -0.5,0.2, -0.16,-0.2, 0,0.25],
 [0,0.25, 0.35,0, 0.7,-0.2, 1.05,1.54, 1.23,1.1, 1.57,0.68, 1.92,1.54, 2.2,1.76, 2.45,1.76, 2.68,0.25, 2.96,1.54, 3.14,1.54, 3.3,-3.0, 3.45,-0.2, 3.55,-0.2, 3.66,7.33, 3.76,-2.3, 3.83,-5.77, 3.9,-8.35, 4.0,0.68, 4.1,-2.55, 4.24,-1.46, 4.35,-2.1, 4.5,-2.1, 4.7,5.5, 4.8,3.03, 4.87,-9.2, 4.94,-5.1, 5.04,-13.9, 5.15,0.25, 5.22,6.05, 5.32,8.4, 5.4,0.5, 5.56,0.68, 5.74,-1.25, 6.09,-0.4],
 [12,-0.83, 11,-0.6, 10,-0.4, 9,-0.3, 8,-0.35, 7,-0.27, 6,-0.4, 5,-0.3, 4,-0.2, 3,-0.1, 2,-0.2, 1,0, 0,0.25]
];

const dmSeries = [dm_0, dm_40, dm_80, dm_160, dm_300, dm_500, dm_800, dm_1000, dm_1300, dm_1500, dm_2800];
const alphaSeries = [alpha_0, alpha_40, alpha_80, alpha_160, alpha_300, alpha_500, alpha_800, alpha_1000, alpha_1300, alpha_1500, alpha_2800];

// axis domains and tick labels
const xDomain = [-15, 15];
const xTickValues = [-15, -10, -5, 0, 5, 10, 15];
const leftDomains = [[-20,15],[-15,17.5],[-17.5,15],[-12.5,35],[-12.5,35],[-17.5,20],[-2,10],[-12.5,17.5],[-15,22.5],[-15,15],[-4,4]];
const rightDomains = [[-70,50],[-40,40],[-30,65],[-125,150],[-150,175],[-80,120],[-30,35],[-30,35],[-45,40],[-60,50],[-17.5,12.5]];
const leftTickValues = [
 [-20,-15,-10,-5,0,5,10,15],[-15,-10,-5,0,5,10,15],[-15,-10,-5,0,5,10,15],[-10,0,10,20,30],[-10,0,10,20,30],
 [-10,0,10,20],[-2,0,2,4,6,8,10],[-10,-5,0,5,10,15],[-15,-10,-5,0,5,10,15,20],[-15,-10,-5,0,5,10,15],[-4,-2,0,2,4]];
const rightTickValues = [
 [-60,-40,-20,0,20,40],[-40,-30,-20,-10,0,10,20,30,40],[-20,0,20,40,60],[-100,-50,0,50,100,150],[-150,-100,-50,0,50,100,150],
 [-80,-40,0,40,80,120],[-30,-20,-10,0,10,20,30],[-30,-20,-10,0,10,20,30],[-40,-20,0,20,40],[-60,-40,-20,0,20,40],[-15,-10,-5,0,5,10]];
const leftMinorStep = [2.5,2.5,2.5,5,5,5,1,2.5,2.5,2.5,1];
const rightMinorStep = [10,5,10,25,25,20,5,5,10,10,2.5];

// ---------------- LAYOUT ----------------
const frames = [ // [left, right, top, bottom] of each plot frame, page px
 [56,344,13,248],[440,730,13,247],[831,1121,10,243],
 [55,343,272,506],[440,730,272,506],[831,1121,269,502],
 [56,344,530,763],[442,733,533,766],[835,1125,529,763],
 [58,346,792,1023],[444,732,795,1027]];
const titleRight = [14,17,17,10,13,18,6,10,12,9,9];
const titleTop = [7,10,7,16,11,18,17,10,16,11,10];
const leftTitleOff = [30,26,37,31,31,33,32,27,31,36,30];
const rightTitleOff = [40,40,39,39,38,40,39,37,34,37,36];

const SERIF = "'Liberation Serif','Times New Roman',serif";
const TITLE_COLOR = "#3a7db8";
const TICK_FONT = 15;
const wrap = document.getElementById("wrap");

function rows(branches, f) {
  const out = [];
  branches.forEach((b, k) => {
    for (let j = 0; j + 1 < b.length; j += 2) out.push({E: b[j], v: f(b[j + 1]), k});
  });
  return out;
}
function steps(lo, hi, st) {
  const a = [];
  for (let t = Math.ceil(lo / st - 1e-9) * st; t <= hi + 1e-9; t += st) a.push(+t.toFixed(4));
  return a;
}
function richText(sel, parts, x, y, rot, size) {
  const t = sel.append("text")
    .attr("transform", `translate(${x},${y})` + (rot ? ` rotate(${rot})` : ""))
    .attr("text-anchor", "middle")
    .attr("dominant-baseline", "central")
    .attr("fill", "black")
    .style("font-family", SERIF).style("font-weight", "bold").style("font-size", size + "px");
  for (const p of parts) {
    const s = t.append("tspan").text(p.t);
    if (p.i) s.style("font-style", "italic");
    if (p.s) s.style("font-size", p.s + "px");
    if (p.dy) s.attr("dy", p.dy);
  }
}

fieldLabels.forEach((label, i) => {
  const [fl, fr, ft, fb] = frames[i];
  const mL = 62, mR = 58, mT = 12, mB = i >= 9 ? 46 : 26;
  const W = fr - fl + mL + mR, H = fb - ft + mT + mB;
  const [L0, L1] = leftDomains[i], [R0, R1] = rightDomains[i];
  const toL = a => L0 + (a - R0) * (L1 - L0) / (R1 - R0);
  const toR = v => R0 + (v - L0) * (R1 - R0) / (L1 - L0);
  const black = rows(dmSeries[i], v => v);
  const blue = rows(alphaSeries[i], toL);
  const fmt = d => String(Math.round(d * 100) / 100);
  const svg = Plot.plot({
    width: W, height: H,
    marginLeft: mL, marginRight: mR, marginTop: mT, marginBottom: mB,
    x: {domain: xDomain, label: null},
    y: {domain: [L0, L1], label: null},
    style: {fontFamily: SERIF, fontSize: TICK_FONT + "px", fontWeight: "bold", background: "transparent", overflow: "visible", color: "black"},
    marks: [
      Plot.line(black, {x: "E", y: "v", z: "k", stroke: "black", strokeWidth: 0.75}),
      Plot.dot(black, {x: "E", y: "v", symbol: "square", r: 2.9, fill: "black", stroke: "none"}),
      Plot.line(blue, {x: "E", y: "v", z: "k", stroke: "#0000ff", strokeWidth: 0.85}),
      Plot.dot(blue, {x: "E", y: "v", symbol: "square", r: 2.9, fill: "#0000ff", stroke: "none"}),
      Plot.ruleX([xDomain[0]], {stroke: "black", strokeWidth: 1.4}),
      Plot.ruleY([L0], {stroke: "black", strokeWidth: 1.4}),
      Plot.ruleY([L1], {stroke: "black", strokeWidth: 1.4}),
      Plot.ruleX([xDomain[1]], {stroke: "#0000ff", strokeWidth: 1.8}),
      Plot.axisX(xTickValues, {anchor: "bottom", tickSize: 4, tickPadding: 1.5, strokeWidth: 1.2, fontSize: TICK_FONT, tickFormat: fmt, label: null}),
      Plot.axisX(steps(xDomain[0], xDomain[1], 2.5), {anchor: "bottom", tickSize: 2.5, strokeWidth: 1, tickFormat: () => "", label: null}),
      Plot.axisY(leftTickValues[i], {anchor: "left", tickSize: 4.5, tickPadding: 2, strokeWidth: 1.2, fontSize: TICK_FONT, tickFormat: fmt, label: null}),
      Plot.axisY(steps(L0, L1, leftMinorStep[i]), {anchor: "left", tickSize: 2.5, strokeWidth: 1, tickFormat: () => "", label: null}),
      Plot.axisY(rightTickValues[i].map(toL), {anchor: "right", tickSize: 4.5, tickPadding: 2, strokeWidth: 1.2, fontSize: TICK_FONT, color: "#0000ff", stroke: "#0000ff", fill: "#0000ff", tickFormat: d => String(Math.round(toR(d) * 10) / 10), label: null}),
      Plot.axisY(steps(R0, R1, rightMinorStep[i]).map(toL), {anchor: "right", tickSize: 2.5, strokeWidth: 1, color: "#0000ff", stroke: "#0000ff", tickFormat: () => "", label: null}),
      Plot.text([label], {text: d => d, frameAnchor: "top-right", textAnchor: "end", lineAnchor: "top", dx: -titleRight[i], dy: titleTop[i], fontSize: 24, fontWeight: "bold", fill: TITLE_COLOR, fontFamily: SERIF})
    ]
  });
  svg.style.left = (fl - mL) + "px";
  svg.style.top = (ft - mT) + "px";
  const g = d3.select(svg);
  const cy = mT + (fb - ft) / 2;
  richText(g, [{t: "\u0394M", i: 1}, {t: " (emu/cm"}, {t: "3", s: 12, dy: -6}, {t: ")", dy: 6}],
    mL - leftTitleOff[i], cy + 3, -90, 17);
  richText(g, [{t: "\u03b1", i: 1}, {t: "CME", i: 1, s: 12, dy: 4}, {t: " (\u00d710", dy: -4}, {t: "-8", s: 12, dy: -6}, {t: "s/m)", dy: 6}],
    mL + (fr - fl) + rightTitleOff[i], cy - 4, -90, 17);
  if (i >= 9) {
    richText(g, [{t: "E", i: 1}, {t: " (kV/cm)"}], mL + (fr - fl) / 2 - 3, mT + (fb - ft) + 29, 0, 17);
  }
  wrap.appendChild(svg);
});
</script>
</body>
</html>
